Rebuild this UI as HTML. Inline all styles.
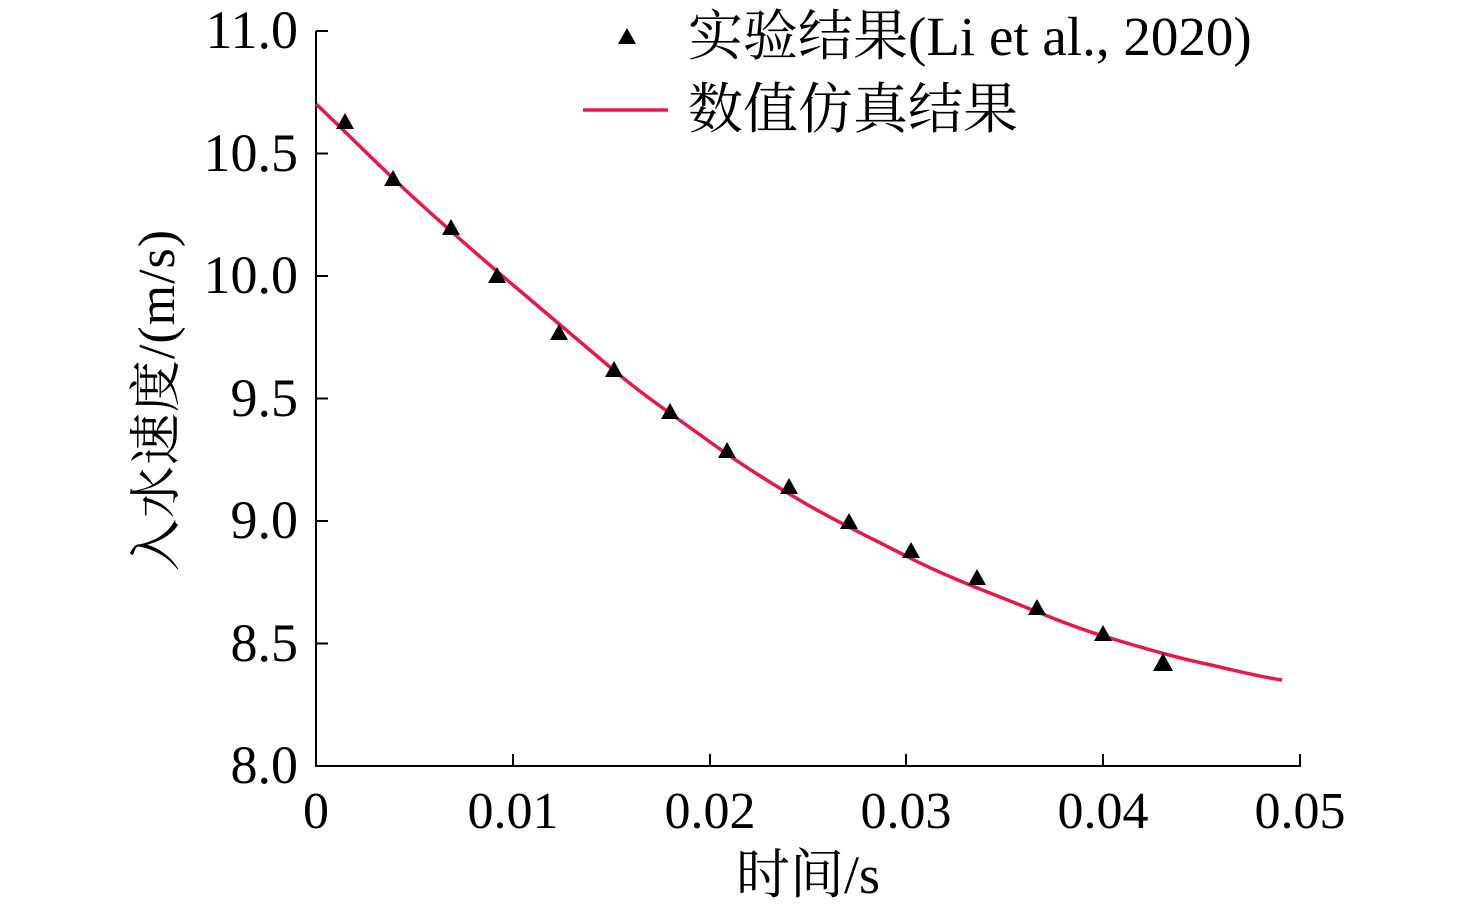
<!DOCTYPE html>
<html><head><meta charset="utf-8"><style>html,body{margin:0;padding:0;background:#fff}</style></head>
<body>
<svg width="1476" height="912" xmlns="http://www.w3.org/2000/svg" font-family="'Liberation Serif','Noto Serif CJK SC',serif">
<g stroke="#000" stroke-width="2" fill="none">
<line x1="316" y1="31" x2="316" y2="767"/>
<line x1="315" y1="766" x2="1301" y2="766"/>
<line x1="316" y1="31" x2="328" y2="31"/>
<line x1="316" y1="153.5" x2="328" y2="153.5"/>
<line x1="316" y1="276" x2="328" y2="276"/>
<line x1="316" y1="398.5" x2="328" y2="398.5"/>
<line x1="316" y1="521" x2="328" y2="521"/>
<line x1="316" y1="643.5" x2="328" y2="643.5"/>
<line x1="513" y1="766" x2="513" y2="754"/>
<line x1="710" y1="766" x2="710" y2="754"/>
<line x1="906" y1="766" x2="906" y2="754"/>
<line x1="1103" y1="766" x2="1103" y2="754"/>
<line x1="1300" y1="766" x2="1300" y2="754"/>
</g>
<g font-size="54" text-anchor="end" fill="#000">
<text x="298" y="48">11.0</text>
<text x="298" y="171">10.5</text>
<text x="298" y="293">10.0</text>
<text x="298" y="416">9.5</text>
<text x="298" y="538">9.0</text>
<text x="298" y="661">8.5</text>
<text x="298" y="783">8.0</text>
</g>
<g font-size="52" text-anchor="middle" fill="#000">
<text x="316" y="828">0</text>
<text x="513" y="828">0.01</text>
<text x="710" y="828">0.02</text>
<text x="906" y="828">0.03</text>
<text x="1103" y="828">0.04</text>
<text x="1300" y="828">0.05</text>
<text x="808" y="893" font-size="54">时间/s</text>
</g>
<text transform="translate(174,400) rotate(-90)" font-size="52" text-anchor="middle" letter-spacing="1">入水速度/(m/s)</text>
<path d="M316,104 C350,136 380,167 414,198 S480,257 513,285 S578,340 611,368 S677,418 710,442 S775,486 808,505 S873,539 906,556 S972,586 1005,599 S1070,626 1103,636 S1170,656 1202,663 S1255,676 1282,680" stroke="#e8184a" stroke-width="3.5" fill="none"/>
<g fill="#000">
<polygon points="345,113 336,129 354,129"/>
<polygon points="393,170 384,186 402,186"/>
<polygon points="451,219 442,235 460,235"/>
<polygon points="497,267 488,283 506,283"/>
<polygon points="559,324 550,340 568,340"/>
<polygon points="614,361 605,377 623,377"/>
<polygon points="670,403 661,419 679,419"/>
<polygon points="727,442 718,458 736,458"/>
<polygon points="789,478 780,494 798,494"/>
<polygon points="849,513 840,529 858,529"/>
<polygon points="911,542 902,558 920,558"/>
<polygon points="977,569 968,585 986,585"/>
<polygon points="1037,599 1028,615 1046,615"/>
<polygon points="1103,625 1094,641 1112,641"/>
<polygon points="1163,653 1153,671 1173,671"/>
<polygon points="627,28 618,44 636,44"/>
</g>
<line x1="583" y1="110" x2="668" y2="110" stroke="#e8184a" stroke-width="3.5"/>
<g font-size="55" fill="#000">
<text x="688" y="55">实验结果(Li et al., 2020)</text>
<text x="688" y="128">数值仿真结果</text>
</g>
</svg>
</body></html>
